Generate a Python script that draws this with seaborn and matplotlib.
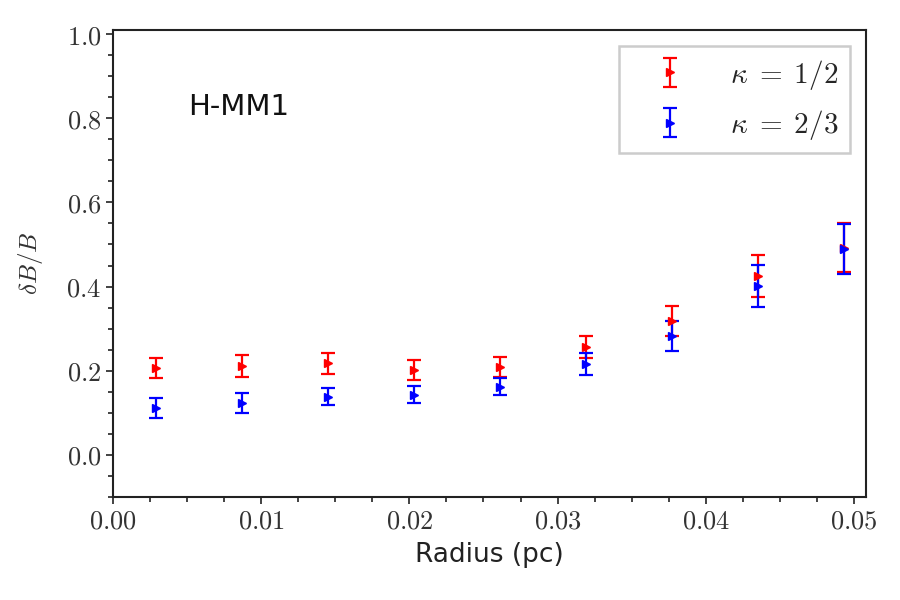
import matplotlib
matplotlib.use("Agg")
import matplotlib.pyplot as plt
import seaborn as sns
import numpy as np
from matplotlib.ticker import MultipleLocator, FuncFormatter

radius = [0.0029, 0.0087, 0.0145, 0.0203, 0.0261, 0.0319, 0.0377, 0.0435, 0.0493]
k12_val = [0.207, 0.211, 0.218, 0.202, 0.209, 0.257, 0.318, 0.425, 0.492]
k12_err = [0.024, 0.025, 0.025, 0.024, 0.024, 0.026, 0.036, 0.050, 0.058]
k23_val = [0.112, 0.124, 0.138, 0.143, 0.162, 0.216, 0.283, 0.402, 0.489]
k23_err = [0.024, 0.024, 0.020, 0.021, 0.021, 0.027, 0.036, 0.050, 0.060]
labels = [r"$\kappa\;=\;1/2$", r"$\kappa\;=\;2/3$"]
colors = ["#ff0000", "#0000ff"]

sns.set_theme(style="ticks")
plt.rcParams["font.family"] = ["DejaVu Sans"]
plt.rcParams["mathtext.fontset"] = "cm"

fig = plt.figure(figsize=(9, 6), dpi=100)
ax = fig.add_axes([0.1256, 0.172, 0.8364, 0.778])

for vals, errs, lab, c in [(k12_val, k12_err, labels[0], colors[0]),
                           (k23_val, k23_err, labels[1], colors[1])]:
    ax.errorbar(radius, vals, yerr=errs, fmt=">", color=c, ecolor=c,
                markersize=6, elinewidth=1.6, capsize=5, capthick=1.6,
                label=lab)

ax.set_xlim(0, 0.0508)
ax.set_ylim(-0.1, 1.01)
ax.xaxis.set_major_locator(MultipleLocator(0.01))
ax.xaxis.set_minor_locator(MultipleLocator(0.0025))
ax.yaxis.set_major_locator(MultipleLocator(0.2))
ax.yaxis.set_minor_locator(MultipleLocator(0.05))
ax.xaxis.set_major_formatter(FuncFormatter(lambda v, p: f"${v:.2f}$"))
ax.yaxis.set_major_formatter(FuncFormatter(lambda v, p: f"${v:.1f}$"))
ax.tick_params(which="major", direction="out", length=5, width=1.2,
               labelsize=19, color="#222222", labelcolor="#333333")
ax.tick_params(which="minor", direction="out", length=3.5, width=1.2,
               color="#222222")
for s in ax.spines.values():
    s.set_color("#222222")
    s.set_linewidth(1.5)

ax.set_xlabel("Radius (pc)", fontsize=19, labelpad=5, color="#222222")
ax.set_ylabel(r"$\delta B/B$", fontsize=18, labelpad=15, color="#333333")

ax.text(0.1, 0.835, "H-MM1", transform=ax.transAxes, fontsize=21,
        ha="left", va="center", color="#111111")

leg = ax.legend(loc="upper right", fontsize=21, frameon=True, fancybox=False,
                borderpad=0.4, handlelength=2.7, handletextpad=0.7,
                labelspacing=0.55, borderaxespad=0.55)
leg.get_frame().set_edgecolor("#cccccc")
leg.get_frame().set_linewidth(1.8)
leg.get_frame().set_alpha(1)

fig.savefig("out.png", dpi=100)
